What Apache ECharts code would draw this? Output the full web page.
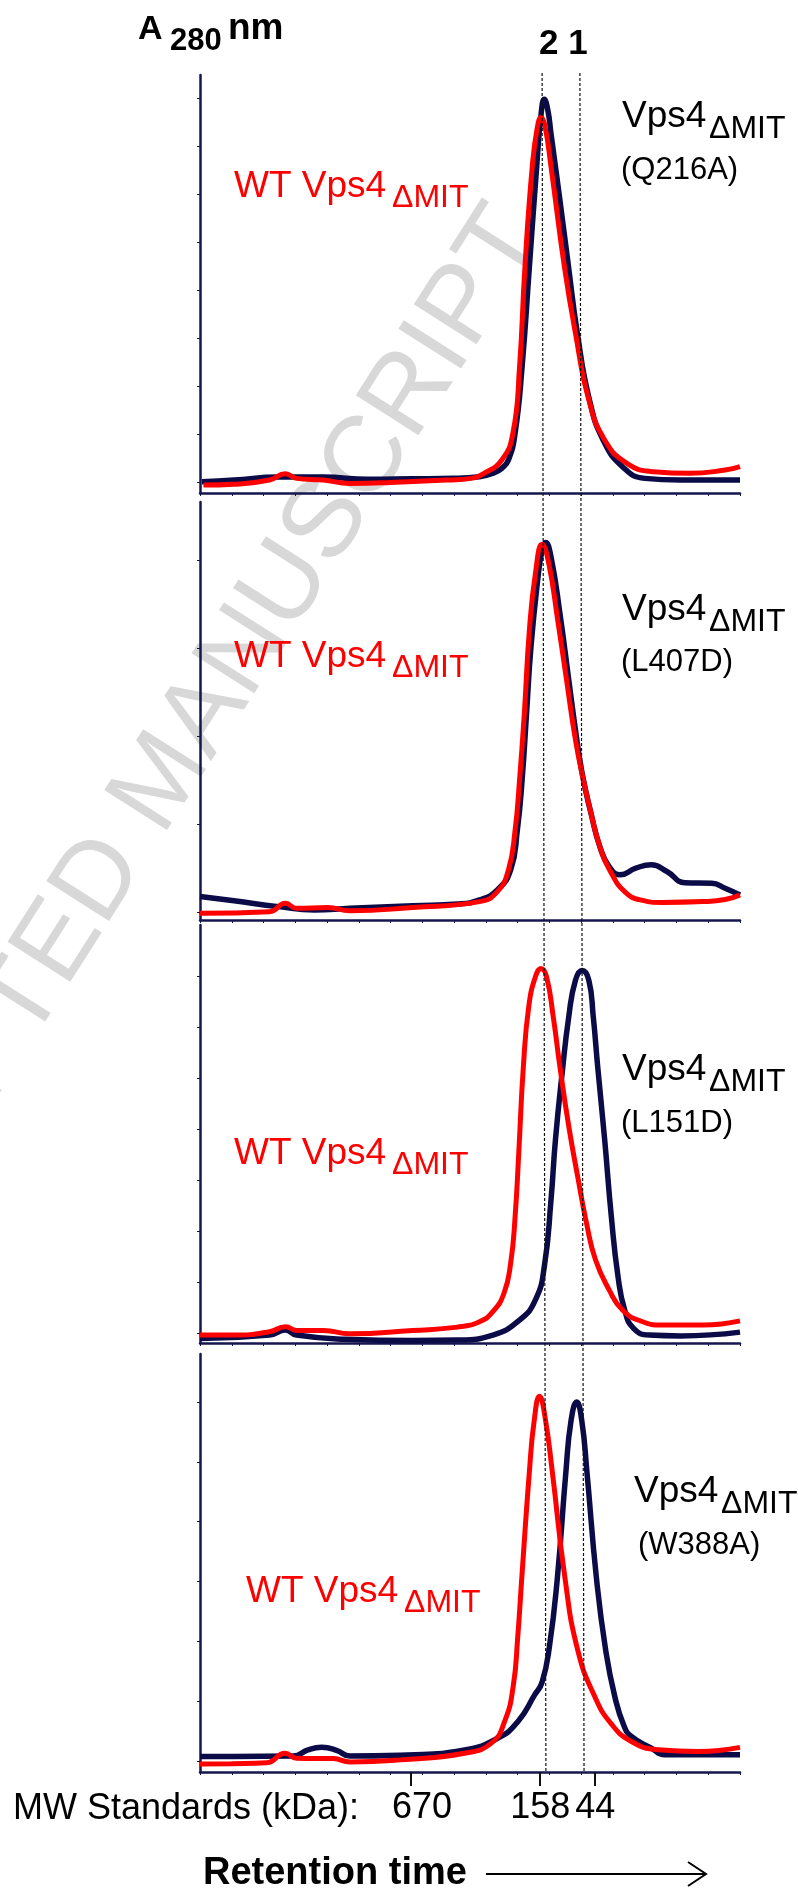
<!DOCTYPE html>
<html>
<head>
<meta charset="utf-8">
<script src="https://cdn.jsdelivr.net/npm/echarts@6.0.0/dist/echarts.min.js"></script>
<style>
  html, body { margin: 0; padding: 0; background: #fff; }
  #main { width: 798px; height: 1889px; }
</style>
</head>
<body>
<div id="main"></div>
<script>
// x: retention (one unit per minor tick, 0..17), y: A280 in % of panel height
var mutQ216A = [[0.06,2.7],[1.07,3.1],[2.47,3.8],[3.88,3.8],[5.29,3.3],[6.69,3.4],[7.96,3.5],[8.80,3.9],[9.22,4.7],[9.50,5.9],[9.71,7.9],[9.92,14.3],[10.14,30.2],[10.37,54.2],[10.60,78.1],[10.73,90.0],[10.84,94.2],[10.95,91.6],[11.05,86.0],[11.33,70.1],[11.60,54.2],[11.88,38.2],[12.26,22.3],[12.69,12.7],[13.30,6.3],[14.00,3.5],[15.13,3.1],[17.0,3.1]];
var wtQ216A = [[0.11,1.9],[1.07,2.1],[2.19,3.1],[2.69,4.6],[3.04,3.5],[3.88,3.1],[4.72,2.3],[5.99,2.5],[7.82,3.1],[8.52,3.5],[8.94,4.7],[9.50,7.9],[9.85,14.3],[10.06,30.2],[10.23,54.2],[10.46,78.1],[10.62,87.5],[10.74,89.9],[10.86,87.8],[11.05,78.1],[11.47,54.2],[11.82,38.2],[12.24,22.3],[12.74,12.7],[13.44,7.1],[14.28,5.1],[15.41,4.7],[16.53,5.5],[17.0,6.3]];

var mutL407D = [[0,5.6],[1.07,4.6],[2.47,3.2],[3.60,2.4],[4.72,2.8],[6.69,3.4],[8.10,3.8],[8.80,4.8],[9.36,7.2],[9.78,12.0],[9.99,21.5],[10.14,33.5],[10.28,49.4],[10.42,65.4],[10.63,81.3],[10.77,88.5],[10.88,90.3],[11.05,86.9],[11.33,73.4],[11.61,57.4],[11.82,45.5],[12.03,35.1],[12.31,25.5],[12.59,17.5],[12.88,12.8],[13.23,10.8],[13.72,12.4],[14.21,13.2],[14.70,11.6],[15.27,8.9],[16.11,8.8],[16.53,7.6],[17.0,6.0]];
var wtL407D = [[0,1.6],[2.19,2.0],[2.69,4.0],[3.04,2.8],[4.02,3.0],[4.72,2.2],[6.69,3.0],[8.80,4.4],[9.36,6.8],[9.71,12.0],[9.92,21.5],[10.06,33.5],[10.21,49.4],[10.37,69.4],[10.56,82.9],[10.77,89.9],[10.98,85.3],[11.26,71.8],[11.54,57.4],[11.82,43.1],[12.07,33.5],[12.31,25.5],[12.59,17.5],[12.95,11.2],[13.37,6.8],[13.86,4.8],[14.56,4.2],[15.83,4.4],[16.53,4.9],[17.0,6.0]];

var mutL151D = [[0,1.1],[2.19,1.9],[2.69,3.1],[3.04,1.9],[4.58,0.9],[6.69,0.6],[8.10,0.7],[9.22,1.9],[10.06,5.5],[10.56,10.3],[10.84,18.3],[11.05,34.2],[11.19,48.6],[11.40,64.5],[11.61,78.1],[11.82,86.8],[12.03,89.1],[12.24,86.8],[12.38,78.1],[12.52,66.1],[12.74,48.6],[12.95,30.2],[13.16,15.9],[13.37,7.9],[13.65,3.5],[14.14,1.9],[15.13,1.7],[17.0,2.6]];
var wtL151D = [[0,1.9],[1.07,1.9],[2.19,2.7],[2.69,3.9],[3.04,3.0],[3.88,3.0],[4.72,2.2],[6.69,3.0],[8.10,3.8],[8.80,5.1],[9.22,7.5],[9.57,11.9],[9.78,19.1],[9.92,30.2],[10.04,46.2],[10.18,66.1],[10.35,80.5],[10.56,87.6],[10.74,89.6],[10.91,87.6],[11.12,78.1],[11.33,66.1],[11.61,51.8],[11.89,39.8],[12.17,28.6],[12.45,19.9],[12.88,12.7],[13.30,7.9],[13.86,5.3],[14.56,4.3],[15.83,4.3],[17.0,5.3]];

var mutW388A = [[0,3.7],[1.05,3.7],[2.94,3.8],[3.4,5.3],[3.83,5.9],[4.3,5.2],[4.72,3.8],[6.3,4.0],[8.33,5.3],[9.38,8.1],[10.01,12.1],[10.54,18.5],[10.77,21.5],[11.0,30.0],[11.25,46.4],[11.52,71.9],[11.68,84.0],[11.86,88.5],[12.02,84.0],[12.18,71.9],[12.48,46.4],[12.77,29.2],[13.06,18.0],[13.35,11.0],[13.58,8.5],[14.21,5.7],[14.63,4.1],[17.0,4.1]];
var wtW388A = [[0,1.9],[1.0,2.0],[2.1,2.2],[2.68,4.5],[3.04,3.3],[4.2,3.2],[4.72,2.4],[6.3,2.9],[8.33,4.5],[9.17,6.9],[9.59,12.1],[9.86,20.5],[10.0,32.0],[10.13,46.4],[10.37,71.9],[10.52,84.0],[10.69,89.9],[10.86,85.0],[11.09,71.9],[11.49,46.4],[11.89,29.2],[12.43,18.0],[12.95,11.5],[13.58,7.3],[14.42,5.3],[15.68,4.9],[17.0,5.9]];

var mutants = ['(Q216A)', '(L407D)', '(L151D)', '(W388A)'];
var mutData = [mutQ216A, mutL407D, mutL151D, mutW388A];
var wtData = [wtQ216A, wtL407D, wtL151D, wtW388A];

// small y ticks per panel
var yTicks = [
  [2.6, 14.1, 25.6, 37.1, 48.6, 60.0, 71.5, 83.0, 94.5],
  [1.9, 23.0, 44.0, 65.1, 86.1],
  [2.4, 14.6, 26.8, 39.0, 51.2, 63.4, 75.6, 87.8],
  [2.6, 16.9, 31.3, 45.6, 59.9, 74.2, 88.5]
];

// MW standards under the bottom axis
var mwLabels = ['670', '158', '44'];
var mwPos = [6.64, 10.71, 12.44];

// peak 2 / peak 1 reference lines (top x, bottom x)
var peakLines = [[10.77, 10.89], [11.96, 12.09]];

var chart = echarts.init(document.getElementById('main'));
var navy = '#0b0b48';
var red = '#ff0000';
var axisColor = '#16164e';
var font = '"Liberation Sans", Arial, sans-serif';

var panelTops = [75, 502, 925, 1354];

var grids = panelTops.map(function (t) {
  return { left: 200, width: 540, top: t, height: 418 };
});
grids.push({ left: 200, width: 540, top: 73, height: 1698 });

var xAxes = panelTops.map(function (t, i) {
  return {
    gridIndex: i, type: 'value', min: 0, max: 17, interval: 1,
    axisLine: { show: true, lineStyle: { color: axisColor, width: 2.5 } },
    axisTick: { show: true, length: 3, lineStyle: { color: axisColor, width: 1 } },
    axisLabel: { show: false },
    splitLine: { show: false }
  };
});
xAxes.push({
  gridIndex: 3, type: 'value', min: 0, max: 17, position: 'bottom',
  axisLine: { show: false },
  axisTick: { show: true, customValues: mwPos, length: 14, lineStyle: { color: '#111', width: 2 } },
  axisLabel: {
    show: true, customValues: mwPos, margin: 18,
    fontSize: 36, fontFamily: font, color: '#000',
    formatter: function (v) {
      var k = 0;
      mwPos.forEach(function (p, j) { if (Math.abs(p - v) < Math.abs(mwPos[k] - v)) k = j; });
      return k === 0 ? '{p|' + mwLabels[k] + '}' : mwLabels[k];
    },
    rich: { p: { fontSize: 36, fontFamily: font, color: '#000', padding: [0, 0, 0, 22] } }
  },
  splitLine: { show: false }
});
xAxes.push({ gridIndex: 4, type: 'value', min: 0, max: 17, show: false });

var yAxes = panelTops.map(function (t, i) {
  return {
    gridIndex: i, type: 'value', min: 0, max: 100,
    axisLine: { show: true, lineStyle: { color: axisColor, width: 2.5 } },
    axisTick: { show: true, length: 3, customValues: yTicks[i], lineStyle: { color: axisColor, width: 1 } },
    axisLabel: { show: false },
    splitLine: { show: false }
  };
});
yAxes.push({ gridIndex: 4, type: 'value', min: 0, max: 1, show: false });

var series = [];
mutData.forEach(function (d, i) {
  series.push({
    type: 'line', xAxisIndex: i, yAxisIndex: i, data: d,
    showSymbol: false, smooth: 0.5,
    lineStyle: { color: navy, width: 5.5 }
  });
  series.push({
    type: 'line', xAxisIndex: i, yAxisIndex: i, data: wtData[i],
    showSymbol: false, smooth: 0.5,
    lineStyle: { color: red, width: 5 }
  });
});
series.push({
  type: 'line', xAxisIndex: 5, yAxisIndex: 4, data: [],
  markLine: {
    silent: true, symbol: ['none', 'none'], label: { show: false },
    lineStyle: { color: '#111', width: 1.2, type: [3, 2] },
    data: peakLines.map(function (m) {
      return [{ coord: [m[0], 1] }, { coord: [m[1], 0] }];
    })
  }
});

function txt(x, base, s, size, color, bold) {
  return {
    type: 'text', x: x, y: base - 0.35 * size, z: 10,
    style: {
      text: s, font: (bold ? 'bold ' : '') + size + 'px ' + font, fill: color,
      align: 'left', verticalAlign: 'middle'
    }
  };
}

// label positions per panel: [black x, black baseline, paren x, paren baseline, red x, red baseline]
var labelPos = [
  [622, 130, 621, 181, 234, 200],
  [622, 623, 621, 673, 234, 670],
  [622, 1083, 621, 1134, 234, 1167],
  [634, 1505, 638, 1556, 246, 1605]
];

var texts = [
  {
    type: 'text', x: 163, y: 781, rotation: 57.5 * Math.PI / 180, z: -10,
    style: { text: 'ACCEPTED MANUSCRIPT', font: '108px ' + font, fill: '#d8d8d8', align: 'center', verticalAlign: 'middle' }
  },
  txt(138, 42, 'A', 34, '#000', true),
  txt(170, 52, '280', 31, '#000', true),
  txt(228, 42, 'nm', 37, '#000', true),
  txt(539, 57, '2 1', 35, '#000', true),
  txt(13, 1822, 'MW Standards (kDa):', 36, '#000', false),
  txt(203, 1887, 'Retention time', 38, '#000', true),
  { type: 'polyline', z: 10, shape: { points: [[486, 1874], [705, 1874]] }, style: { stroke: '#000', lineWidth: 2, fill: null } },
  { type: 'polyline', z: 10, shape: { points: [[688, 1862], [706, 1874], [688, 1886]] }, style: { stroke: '#000', lineWidth: 2, fill: null } }
];
labelPos.forEach(function (p, i) {
  texts.push(txt(p[0], p[1], 'Vps4', 37, '#000', false));
  texts.push(txt(p[0] + 87, p[1] + 10, '\u0394MIT', 32, '#000', false));
  texts.push(txt(p[2], p[3], mutants[i], 31, '#000', false));
  texts.push(txt(p[4], p[5], 'WT Vps4', 37, red, false));
  texts.push(txt(p[4] + 158, p[5] + 9, '\u0394MIT', 32, red, false));
});

chart.setOption({
  animation: false,
  backgroundColor: '#fff',
  grid: grids,
  xAxis: xAxes,
  yAxis: yAxes,
  series: series,
  graphic: { elements: texts }
});
</script>
</body>
</html>
